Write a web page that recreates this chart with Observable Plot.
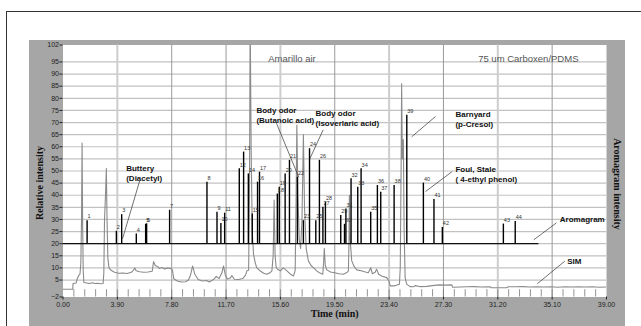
<!DOCTYPE html>
<html><head><meta charset="utf-8">
<script src="https://cdn.jsdelivr.net/npm/d3@7"></script>
<script src="https://cdn.jsdelivr.net/npm/@observablehq/plot@0.6"></script>
<style>
body{margin:0;width:641px;height:326px;overflow:hidden;background:#fff;position:relative;font-family:"Liberation Sans",Arial,sans-serif}
#border{position:absolute;left:6px;top:11px;width:700px;height:400px;border:1.5px solid #333}
#panel{position:absolute;left:29px;top:40px;width:596px;height:300px;background:#a6a6a6}
#chart{position:absolute;left:0;top:0}
.lab{position:absolute;font-family:"Liberation Serif","Times New Roman",serif;font-weight:bold;font-size:10px;color:#111;white-space:nowrap;line-height:1}
</style></head>
<body>
<div id="border"></div>
<div id="panel"></div>
<div id="chart"></div>
<div class="lab" style="left:39.5px;top:183px;transform:translate(-50%,-50%) rotate(-90deg)">Relative intensity</div>
<div class="lab" style="left:616.5px;top:183.5px;transform:translate(-50%,-50%) rotate(90deg)">Aromagram intensity</div>
<div class="lab" style="left:334.7px;top:314px;transform:translate(-50%,-50%)">Time (min)</div>
<script>
// x tick labels (min) and y tick labels
const xTicks = [0, 3.9, 7.8, 11.7, 15.6, 19.5, 23.4, 27.3, 31.2, 35.1, 39];
const xGridLight = [3.9, 15.6, 23.4, 31.2];
const xGridDark = [7.8, 11.7, 19.5, 27.3, 35.1];
const yTicks = [-2, 5, 10, 15, 20, 25, 30, 35, 40, 45, 50, 55, 60, 65, 70, 75, 80, 85, 90, 95, 102];
const yGrid = [5, 10, 15, 20, 25, 30, 35, 40, 45, 50, 55, 60, 65, 70, 75, 80, 85, 90, 95];
const minorTicks = d3.range(0.78, 39, 0.78);

// Aromagram peaks: id, time (min), intensity
const peakIds = ["1","2","3","4","5","6","7","8","9","10","11","12","13","14","15","16","17","18","19","20","21","22","23","24","25","26","27","28","29","30","31","32","33","34","35","36","37","38","39","40","41","42","43","44"];
const peakTimes = [1.73,3.83,4.21,5.26,5.93,6.0,7.65,10.33,11.05,11.33,11.6,12.65,12.96,13.3,13.58,13.96,14.1,15.38,15.52,15.94,16.25,16.82,17.25,17.69,18.14,18.4,18.65,18.83,19.93,20.2,20.3,20.67,21.15,21.39,22.08,22.56,22.8,23.76,24.67,25.86,26.62,27.22,31.6,32.45];
const peakHeights = [29.5,25.1,32,24,28,28.2,33.8,45.4,33,28.3,32.6,50.9,57.8,48.8,32.3,45.4,49.5,40.5,43.3,48.8,54.4,47.4,29.5,59.2,29.5,54.4,35,37.1,31.6,28,34.3,46.8,43.3,50.9,33,44,41.2,44,73,45,38.2,26.7,28.1,29.2];
const aromaBaseline = 20;
const aromaEnd = 34.15;

// SIM trace: time (min), relative intensity
const simTimes = [0,0.7,0.72,0.95,1.0,1.12,1.22,1.28,1.33,1.37,1.41,1.45,1.5,1.7,1.9,2.1,2.3,2.5,2.7,2.88,2.93,2.98,3.05,3.11,3.16,3.22,3.3,3.45,3.7,4.0,4.3,4.6,4.9,5.05,5.15,5.25,5.5,5.8,6.1,6.4,6.5,6.62,6.8,6.9,7.1,7.3,7.5,7.7,7.85,7.95,8.2,8.5,8.8,9.0,9.15,9.3,9.45,9.7,10.0,10.3,10.5,10.8,11.0,11.2,11.4,11.52,11.65,11.8,12.0,12.12,12.3,12.6,12.9,13.1,13.2,13.32,13.38,13.43,13.5,13.58,13.67,13.8,13.9,14.14,14.4,14.63,14.85,14.99,15.08,15.15,15.22,15.3,15.45,15.6,15.8,16.07,16.3,16.54,16.66,16.72,16.78,16.86,16.95,17.05,17.15,17.25,17.33,17.45,17.61,17.8,17.97,18.2,18.4,18.64,18.7,18.75,18.82,18.93,19.2,19.5,19.8,20.12,20.4,20.48,20.52,20.55,20.6,20.72,20.9,21.08,21.4,21.7,21.9,22.0,22.08,22.2,22.4,22.5,22.65,22.9,23.23,23.4,23.47,23.8,24.14,24.2,24.26,24.3,24.35,24.42,24.48,24.55,24.66,24.9,25.14,25.26,25.6,26.1,26.5,27.0,27.5,27.9,27.96,28.5,28.97,29.5,30.0,30.64,30.76,31.3,31.84,31.95,32.5,33.0,33.5,34.0,34.5,35.0,35.5,36.0,36.5,37.0,37.5,38.0,38.5,38.95];
const simValues = [1.2,1.2,3.6,3.8,5.2,6.8,7.5,12,30,61.5,28,9,4.0,3.8,3.6,3.9,3.6,3.7,3.5,3.6,8,30,40,51,30,14,10,9,8.2,7.8,7.9,7.7,8.2,9,10,8.8,8.4,8.2,8.3,8.6,12.6,11,10.5,9.8,10.2,9.6,10,9.8,9.2,5.5,4.6,4.2,4.3,5.0,7,10.8,7.5,5.2,4.6,4.8,4.2,5.2,6.5,5.6,8,10.8,7,5.4,5.8,6.9,5.3,5.2,5.6,7,8.8,9,40,115,60,25,15.7,12,10.1,8.8,7.8,7.4,8,8.8,15,38,15,10.1,9.2,8.8,10,8.8,7.5,6.7,9,35,69,40,22,18,30,65,35,18,12.9,11,10.1,8.8,8,7.4,12,18,11,9.2,8.3,8,7.6,7.4,8.2,8.8,20,40,22,12.9,10.5,9.2,8.8,8.3,8,9,10.1,7.6,8.2,9.5,7.4,6.6,6,4.5,2.6,2.6,3.3,10,50,86,55,63,25,6,3.3,2.3,2.2,2.7,2.3,2.4,2.7,3.0,2.9,3.0,2.0,2.1,2.2,2.3,2.1,2.2,1.8,1.8,1.8,2.2,2.2,2.3,2.1,2.2,2.1,2.2,2.0,2.2,2.1,2.2,2.1,2.2,2.0,2.1];

// Annotations (text, time, intensity at cap top / middle) and leader lines
const noteTexts = ["Buttery\n(Diacetyl)", "Body odor\n(Butanoic acid)", "Body odor\n(Isoverlaric acid)", "Barnyard\n(p-Cresol)", "Foul, Stale\n( 4-ethyl phenol)"];
const noteTimes = [4.535, 13.88, 18.12, 28.16, 28.16];
const noteValues = [53.1, 77.0, 75.8, 75.2, 52.5];
const legendTexts = ["Aromagram", "SIM"];
const legendTimes = [35.65, 36.18];
const legendValues = [29.86, 12.77];
const leaderFrom = [[5.51,46.08],[15.32,69.7],[18.67,67.0],[26.73,72.5],[27.93,49.8],[35.41,28.6],[36.01,12.8]];
const leaderTo = [[4.27,22.0],[16.92,47.4],[17.71,55.0],[25.02,64.1],[26.01,41.5],[33.78,21.6],[34.03,3.45]];
const titles = ["Amarillo air", "75 um Carboxen/PDMS"];
const titleTimes = [14.73, 29.79];
const titleValue = 96.4;

const peaks = peakIds.map((id, i) => ({id, t: peakTimes[i], h: peakHeights[i]}));
const sim = simTimes.map((t, i) => ({t, v: simValues[i]}));
const notes = noteTexts.map((text, i) => ({text, t: noteTimes[i], v: noteValues[i]}));
const legends = legendTexts.map((text, i) => ({text, t: legendTimes[i], v: legendValues[i]}));
const leaders = leaderFrom.map((f, i) => ({x1: f[0], y1: f[1], x2: leaderTo[i][0], y2: leaderTo[i][1]}));
const titleRows = titles.map((text, i) => ({text, t: titleTimes[i], v: titleValue}));

const chart = Plot.plot({
  width: 641, height: 326,
  marginLeft: 62.5, marginRight: 35, marginTop: 44.5, marginBottom: 29.5,
  style: {background: "transparent", color: "#222", fontFamily: "'Liberation Sans', Arial, sans-serif", fontSize: "7px"},
  x: {domain: [0, 39], axis: null},
  y: {domain: [-2, 102], axis: null},
  marks: [
    Plot.frame({fill: "white", stroke: "none"}),
    Plot.gridY(yGrid, {stroke: "#c2c2c2", strokeOpacity: 1, strokeWidth: 1.2}),
    Plot.gridX(xGridLight, {stroke: "#cdcdcd", strokeOpacity: 1, strokeWidth: 2}),
    Plot.gridX(xGridDark, {stroke: "#9a9a9a", strokeOpacity: 1, strokeWidth: 1}),
    Plot.ruleX(minorTicks, {x: d => d, y1: -2, y2: 1, stroke: "#777", strokeWidth: 0.8}),
    Plot.line(sim, {x: "t", y: "v", stroke: "#8a8a8a", strokeWidth: 1.1, clip: true}),
    Plot.ruleY([aromaBaseline], {x1: 0, x2: aromaEnd, stroke: "#111", strokeWidth: 1.2}),
    Plot.ruleX(peaks, {x: "t", y1: aromaBaseline, y2: "h", stroke: "#000", strokeWidth: 1.4}),
    Plot.text(peaks, {x: "t", y: "h", text: "id", dx: 0.5, dy: -4, fontSize: 5.5, fill: "#333", textAnchor: "start"}),
    Plot.link(leaders, {x1: "x1", y1: "y1", x2: "x2", y2: "y2", stroke: "#333", strokeWidth: 0.7}),
    Plot.text(notes, {x: "t", y: "v", text: "text", textAnchor: "start", lineAnchor: "top", lineHeight: 1.25, fontSize: 8, fontWeight: "bold", fill: "#111"}),
    Plot.text(legends, {x: "t", y: "v", text: "text", textAnchor: "start", lineAnchor: "middle", fontSize: 8, fontWeight: "bold", fill: "#111"}),
    Plot.text(titleRows, {x: "t", y: "v", text: "text", textAnchor: "start", lineAnchor: "middle", fontSize: 9.5, fill: "#555"}),
    Plot.axisY(yTicks, {tickSize: 3, tickPadding: 1, fontSize: 7, label: null}),
    Plot.axisX(xTicks, {tickSize: 3, tickPadding: 2, fontSize: 7, tickFormat: d => d.toFixed(2), label: null})
  ]
});
document.getElementById("chart").appendChild(chart);
</script>
</body></html>
